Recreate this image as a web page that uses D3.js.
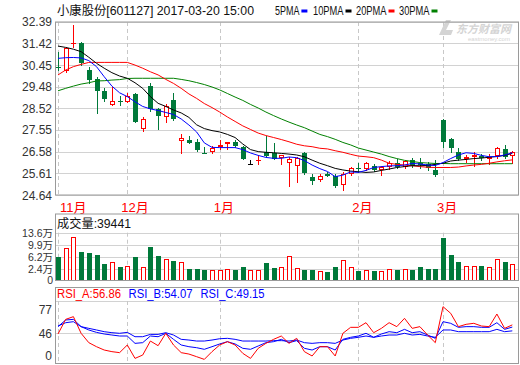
<!DOCTYPE html>
<html><head><meta charset="utf-8">
<script src="https://cdn.jsdelivr.net/npm/d3@7"></script>
<style>
body{margin:0;background:#fff;}
svg{display:block;}
text{font-family:"Liberation Sans","Noto Sans CJK SC",sans-serif;}
</style>
</head><body>
<svg id="c" width="520" height="365"></svg>
<script>
// ---------- data ----------
const title = "小康股份[601127] 2017-03-20 15:00";
const maNames = ["5PMA","10PMA","20PMA","30PMA"];
const priceTicks = [32.39,31.42,30.45,29.48,28.52,27.55,26.58,25.61,24.64];
const monthIdx = [0,9,21,39,50];
const monthLabels = ["11月","12月","1月","2月","3月"];

const open  = [30.36,30.20,31.40,31.45,30.23,29.81,29.29,28.65,28.86,28.79, 29.16,27.60,29.51,28.47,28.14,28.89,27.04,27.10,27.01,26.54, 26.55,26.77,26.91,27.01,26.80,26.03,26.15,26.58,26.53,26.30, 26.06,25.95,26.50,25.46,25.30,25.59,25.49,25.07,25.57,25.86, 25.80,25.94,25.77,25.91,26.06,25.91,26.19,26.08,26.01,25.76, 27.99,27.14,26.58,26.24,26.32,26.40,26.24,26.38,26.70,26.40];
const high  = [31.02,31.27,32.24,31.47,30.38,29.90,29.41,29.48,29.07,29.19, 29.22,28.14,29.66,28.54,28.70,29.22,27.35,27.28,27.13,26.80, 26.83,27.10,27.00,27.10,26.83,26.21,26.43,27.28,26.95,26.44, 26.35,26.34,26.55,25.58,25.57,25.66,25.57,25.68,25.91,26.06, 26.13,26.01,25.95,26.16,26.24,26.20,26.28,26.28,26.13,26.20, 28.04,27.20,26.73,26.43,26.55,26.46,26.46,26.80,26.87,26.61];
const low   = [30.23,30.15,31.27,30.45,29.63,28.29,28.86,28.65,28.67,28.79, 27.89,27.51,28.41,27.60,27.90,27.99,26.50,26.95,26.62,26.52, 26.53,26.68,26.68,26.80,26.24,26.03,26.03,26.35,26.24,26.01, 25.06,25.24,25.57,25.12,25.27,25.49,25.01,24.86,25.53,25.68, 25.77,25.71,25.53,25.80,25.86,25.83,25.91,25.86,25.76,25.50, 26.80,26.58,26.20,26.13,25.95,26.20,26.01,26.28,26.28,26.06];
const close = [30.31,31.20,31.43,30.56,29.78,29.30,28.93,28.84,28.83,29.06, 27.92,28.04,28.50,28.19,28.62,28.05,27.19,26.98,26.65,26.53, 26.74,26.86,27.00,26.83,26.26,26.03,26.19,26.40,26.26,26.44, 26.24,26.28,25.61,25.27,25.49,25.49,25.06,25.59,25.83,25.80, 26.06,25.76,25.89,26.06,25.91,26.16,25.95,25.98,25.83,25.53, 27.02,26.73,26.25,26.35,26.43,26.28,26.35,26.76,26.35,26.55];

const ma5  = [30.75,30.78,30.79,30.77,30.65,30.38,29.93,29.51,29.21,29.04, 28.81,28.60,28.49,28.42,28.33,28.24,28.04,27.77,27.46,26.97, 26.77,26.76,26.76,26.76,26.67,26.52,26.41,26.32,26.28,26.28, 26.34,26.31,26.18,25.98,25.82,25.69,25.46,25.53,25.67,25.65, 25.74,25.87,25.91,25.94,25.95,25.98,26.05,26.03,25.98,25.96, 26.09,26.27,26.43,26.53,26.50,26.41,26.35,26.36,26.43,26.53];
const ma10 = [31.30,31.24,31.16,31.05,30.80,30.53,30.31,30.11,29.96,29.86, 29.66,29.41,29.04,28.74,28.60,28.44,28.31,28.11,27.78,27.61, 27.52,27.46,27.35,27.21,26.92,26.67,26.58,26.55,26.53,26.50, 26.47,26.43,26.35,26.20,26.06,25.95,25.83,25.76,25.71,25.68, 25.65,25.67,25.74,25.80,25.87,25.91,25.95,25.95,25.96,26.01, 26.06,26.16,26.20,26.23,26.27,26.29,26.33,26.36,26.41,26.50];
const ma20 = [30.01,30.23,30.38,30.48,30.57,30.57,30.57,30.57,30.57,30.57, 30.45,30.31,30.15,30.01,29.81,29.63,29.41,29.16,28.96,28.73, 28.55,28.35,28.13,27.93,27.73,27.57,27.41,27.30,27.21,27.12, 27.02,26.91,26.84,26.80,26.73,26.70,26.62,26.55,26.46,26.38, 26.35,26.31,26.20,26.06,26.01,25.98,25.95,25.91,25.88,25.87, 25.87,25.87,25.89,25.94,25.98,26.01,26.06,26.12,26.17,26.21];
const ma30 = [29.30,29.41,29.51,29.60,29.66,29.74,29.75,29.78,29.80,29.85, 29.86,29.86,29.86,29.86,29.86,29.86,29.81,29.75,29.67,29.58, 29.47,29.34,29.18,29.02,28.87,28.69,28.53,28.35,28.19,28.04, 27.90,27.77,27.65,27.50,27.35,27.25,27.13,26.99,26.88,26.74, 26.65,26.56,26.47,26.36,26.27,26.19,26.14,26.09,26.07,26.05, 26.05,26.04,26.04,26.04,26.04,26.04,26.04,26.04,26.04,26.04];

// volume in 万
const volume = [6.19,8.88,12.27,7.64,7.33,6.71,3.94,4.56,3.00,3.31, 6.10,3.00,9.19,6.41,5.48,4.87,4.56,2.40,2.40,2.09, 2.09,2.09,2.40,2.09,3.00,2.09,2.09,4.25,2.70,3.00, 6.41,2.70,2.09,2.09,1.78,1.47,3.00,5.17,3.00,1.78, 2.09,1.78,1.78,2.40,2.09,2.40,2.09,3.00,2.40,2.40, 11.96,6.71,4.56,3.31,3.31,3.31,3.00,5.48,4.56,3.94];
const volHeader = "成交量:39441";
const volTicks = [13.6,9.9,6.2,2.4,-1.3];
const volTickLabels = ["13.6万","9.9万","6.2万","2.4万","0"];

const rsiA = [45.1,64.0,67.5,46.0,33.9,28.7,24.4,22.3,21.0,30.9, 13.6,17.9,36.0,30.0,46.0,30.9,21.0,19.2,15.8,12.3, 22.3,30.9,35.2,30.9,20.1,13.6,26.6,33.0,38.2,42.5, 33.0,39.5,22.3,16.7,28.7,28.7,16.7,46.0,53.7,53.7, 59.7,46.8,52.4,59.7,54.6,65.3,52.4,54.6,43.8,33.9, 80.4,71.8,54.6,57.6,58.9,55.4,54.6,70.9,52.4,56.86];
const rsiB = [54.6,63.2,64.0,54.6,50.3,47.2,45.1,43.8,42.5,42.5, 33.0,33.9,42.5,41.6,46.0,38.2,30.9,28.7,27.4,25.3, 28.7,32.2,35.2,32.2,26.6,25.3,29.6,33.9,35.2,38.2, 33.9,36.5,26.6,24.4,28.7,28.7,24.4,38.2,40.8,42.5, 46.0,40.8,45.1,48.1,46.8,51.1,46.8,48.1,43.8,39.5, 61.0,58.9,53.7,54.6,54.6,53.7,53.7,59.7,51.1,54.07];
const rsiC = [55.4,59.7,61.0,54.6,52.4,50.3,48.1,46.8,46.0,47.2, 41.6,41.6,44.6,44.6,46.8,43.8,38.2,37.3,36.0,36.0, 37.3,39.0,39.5,38.2,36.0,36.0,36.0,36.0,36.5,36.5, 36.0,37.3,33.9,33.0,33.9,33.9,33.0,37.3,39.5,40.8, 42.5,40.8,42.5,43.8,43.8,46.0,43.8,44.6,42.5,40.8, 50.3,50.3,48.1,48.1,48.1,48.1,48.1,51.1,48.1,49.15];
const rsiHeaders = ["RSI_A:56.86","RSI_B:54.07","RSI_C:49.15"];
const rsiTicks = [77,46,17];
const rsiTickLabels = ["77","46","0"];

// ---------- styles ----------
const RED="#ff0000", GREEN="#00793a", BLUE="#0000ff", BLACK="#000000", DKGREEN="#008000";
const FRAME="#9a9a9a", GRID="#d2d2d2", DASH="#c8c8c8";

const svg = d3.select("#c");
const L = 55.5, R = 518.5;
const n = close.length;
const x = d3.scaleLinear().domain([0, n-1]).range([58, 512.3]);

function txt(s, px, py, o={}) {
  const t = svg.append("text").attr("x", px).attr("y", py).text(s)
    .attr("font-size", o.size||12).attr("fill", o.fill||"#222")
    .attr("text-anchor", o.anchor||"start");
  if (o.len) t.attr("textLength", o.len).attr("lengthAdjust","spacingAndGlyphs");
  return t;
}

// ---------- header ----------
txt(title, 57, 15, {len:197, fill:"#111"});
const legColors=[BLUE,BLACK,RED,DKGREEN];
const legX=[275,313,356,399];
maNames.forEach((nm,k)=>{
  const w = nm.length*6.1;
  txt(nm, legX[k], 15, {len:w, fill:"#111"});
  svg.append("rect").attr("x", legX[k]+w+2).attr("y",9.5).attr("width",6).attr("height",3).attr("fill",legColors[k]);
});

// ---------- main panel ----------
const mTop=22, mBot=195;
const y = d3.scaleLinear().domain([24.64,32.39]).range([mBot, 21.7]);
svg.append("defs").append("clipPath").attr("id","clipM")
  .append("rect").attr("x",L).attr("y",mTop).attr("width",R-L).attr("height",mBot-mTop);

const gGrid = svg.append("g");
priceTicks.forEach(v=>{
  const yy = Math.round(y(v))+0.5;
  gGrid.append("line").attr("x1",L).attr("x2",R).attr("y1",yy).attr("y2",yy).attr("stroke",GRID);
  txt(v.toFixed(2), 52, y(v)+4.5, {anchor:"end", fill:"#333"});
});
function monthLines(top, bot){
  monthIdx.forEach(i=>{
    const xx = Math.round(x(i))+0.5;
    svg.append("line").attr("x1",xx).attr("x2",xx).attr("y1",top).attr("y2",bot)
      .attr("stroke",DASH).attr("stroke-dasharray","4,3");
  });
}
monthLines(mTop, mBot);

// watermark
const wm = svg.append("g").attr("fill","#d4d4d4");
wm.append("text").attr("x",456).attr("y",33).attr("font-size",11).attr("font-weight","bold")
  .attr("font-style","italic").text("东方财富网");
wm.append("text").attr("x",468).attr("y",41).attr("font-size",6).text("eastmoney.com");
wm.append("path").attr("d","M439,35 L446,20 L451,20 L446,30 L453,30 L451,35 Z");

// candles
const gC = svg.append("g").attr("clip-path","url(#clipM)");
d3.range(n).forEach(i=>{
  const o=open[i], c=close[i], h=high[i], l=low[i];
  const col = c>o ? RED : (c<o ? GREEN : BLACK);
  const cx = Math.round(x(i));
  const yt = Math.round(y(Math.max(o,c))), yb = Math.round(y(Math.min(o,c)));
  const yh = Math.round(y(h)), yl = Math.round(y(l));
  if (c>o) {
    gC.append("line").attr("x1",cx+0.5).attr("x2",cx+0.5).attr("y1",yh).attr("y2",yt).attr("stroke",col);
    gC.append("line").attr("x1",cx+0.5).attr("x2",cx+0.5).attr("y1",yb).attr("y2",yl+1).attr("stroke",col);
    if (yb-yt < 2) {
      gC.append("rect").attr("x",cx-2).attr("y",yt).attr("width",5).attr("height",Math.max(1,yb-yt)).attr("fill",col);
    } else {
      gC.append("rect").attr("x",cx-1.5).attr("y",yt+0.5).attr("width",4).attr("height",yb-yt-1)
        .attr("fill","#fff").attr("stroke",col);
    }
  } else {
    gC.append("line").attr("x1",cx+0.5).attr("x2",cx+0.5).attr("y1",yh).attr("y2",yl+1).attr("stroke",col);
    gC.append("rect").attr("x",cx-2).attr("y",yt).attr("width",5).attr("height",Math.max(1,yb-yt)).attr("fill",col);
  }
});
// moving averages
const mline = d3.line().x((d,i)=>x(i)).y(d=>y(d));
[[ma30,DKGREEN],[ma20,RED],[ma10,BLACK],[ma5,BLUE]].forEach(([arr,col])=>{
  gC.append("path").attr("d",mline(arr)).attr("fill","none").attr("stroke",col).attr("stroke-width",1);
});
svg.append("rect").attr("x",L).attr("y",mTop).attr("width",R-L).attr("height",mBot-mTop)
  .attr("fill","none").attr("stroke",FRAME);

// month labels
monthIdx.forEach((i,k)=>{
  txt(monthLabels[k], Math.max(x(i)-6, 60), 212, {fill:RED, size:13});
});

// ---------- volume panel ----------
const vTop=214, vBot=280.5;
const vy = d3.scaleLinear().domain([-1.3,13.6]).range([281,232.7]);
volTicks.forEach((v,k)=>{
  const yy = Math.round(vy(v))+0.5;
  if (k < volTicks.length-1)
    svg.append("line").attr("x1",L).attr("x2",R).attr("y1",yy).attr("y2",yy).attr("stroke",GRID);
  txt(volTickLabels[k], 53, Math.min(vy(v),280)+4, {anchor:"end", fill:"#333", size:10.5});
});
monthLines(232.7, vBot);
const gV = svg.append("g");
volume.forEach((v,i)=>{
  const up = close[i] >= open[i];
  const cx = Math.round(x(i));
  const top = Math.round(vy(v));
  if (up) {
    gV.append("rect").attr("x",cx-1.5).attr("y",top+0.5).attr("width",4).attr("height",vBot-top-0.5)
      .attr("fill","#fff").attr("stroke",RED);
  } else {
    gV.append("rect").attr("x",cx-2).attr("y",top).attr("width",5).attr("height",vBot-top).attr("fill",GREEN);
  }
});
txt(volHeader, 57, 228, {len:74, fill:"#111"});
svg.append("rect").attr("x",L).attr("y",vTop).attr("width",R-L).attr("height",vBot-vTop)
  .attr("fill","none").attr("stroke",FRAME);

// ---------- RSI panel ----------
const rTop=287.5, rSep=301, rBot=363.5;
const ry = d3.scaleLinear().domain([46,77]).range([333.3,309.3]);
svg.append("defs").append("clipPath").attr("id","clipR")
  .append("rect").attr("x",L).attr("y",rSep).attr("width",R-L).attr("height",rBot-rSep);
svg.append("line").attr("x1",L).attr("x2",R).attr("y1",rSep+0.5).attr("y2",rSep+0.5).attr("stroke",GRID);
svg.append("line").attr("x1",L).attr("x2",R).attr("y1",Math.round(ry(46))+0.5).attr("y2",Math.round(ry(46))+0.5).attr("stroke",GRID);
rsiTicks.forEach((v,k)=>{
  txt(rsiTickLabels[k], 52, ry(v)+4.5, {anchor:"end", fill:"#333"});
});
monthLines(rSep, rBot);
const rline = d3.line().x((d,i)=>x(i)).y(d=>ry(d));
const gR = svg.append("g").attr("clip-path","url(#clipR)");
[[rsiC,BLUE],[rsiB,BLUE],[rsiA,RED]].forEach(([arr,col])=>{
  gR.append("path").attr("d",rline(arr)).attr("fill","none").attr("stroke",col).attr("stroke-width",1);
});
const rhX=[57,128.5,200.5], rhC=[RED,BLUE,BLUE];
rsiHeaders.forEach((s,k)=>txt(s, rhX[k], 298, {len:64, fill:rhC[k]}));
svg.append("rect").attr("x",L).attr("y",rTop).attr("width",R-L).attr("height",rBot-rTop)
  .attr("fill","none").attr("stroke",FRAME);
</script>
</body></html>
